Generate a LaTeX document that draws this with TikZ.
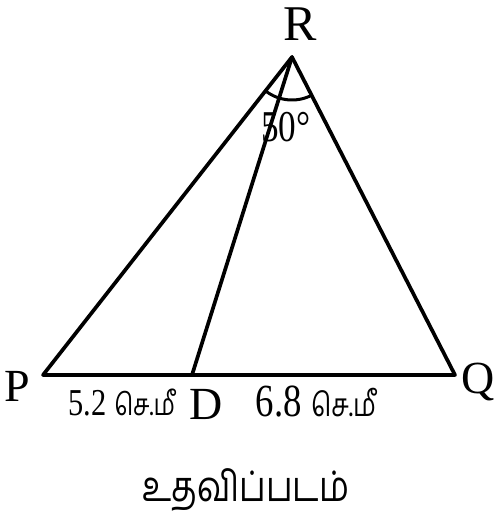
\documentclass[tikz,border=0pt]{standalone}
\usepackage{fontspec}
\setmainfont{Liberation Serif}
\newfontfamily\tamilfont[Script=Tamil]{Hind Madurai}
\usetikzlibrary{positioning,calc,angles}

\newcommand{\narrow}[1]{\scalebox{0.8}[1]{#1}}

\begin{document}
\begin{tikzpicture}[
    x=1pt, y=-1pt,
    every node/.style={inner sep=0pt},
    vertex/.style={font=\fontsize{46}{50}\selectfont},
    measure/.style={font=\fontsize{38}{42}\selectfont},
    caption/.style={font=\fontsize{42}{46}\selectfont\tamilfont},
    side/.style={line width=3.7pt, line cap=round, line join=round}
]
\useasboundingbox (0,0) rectangle (495,528);

% Triangle vertices
\coordinate (R) at (292,57);
\coordinate (P) at (43,375);
\coordinate (Q) at (455,375);
\coordinate (D) at (192,375);

% Sides and the segment RD
\draw[side] (P) -- (R) -- (Q) -- cycle;
\draw[side] (R) -- (D);

% Angle at R
\pic[draw, line width=3pt, angle radius=43pt] {angle=P--R--Q};
\node[vertex, font=\fontsize{44}{48}\selectfont] (ang) at (286,127) {\narrow{50°}};

% Vertex labels
\node[vertex, font=\fontsize{50}{54}\selectfont] (labR) at (300,24) {R};
\node[vertex] (labP) at (17,386) {P};
\node[vertex] (labQ) at (478,382) {Q};
\node[vertex] (labD) at (206,404) {D};

% Lengths
\node[measure] (pd) at (122,402) {\narrow{5.2 {\tamilfont\fontsize{30}{34}\selectfont செ.மீ}}};
\node[measure, font=\fontsize{46}{50}\selectfont] (dq) at (316,402) {\narrow{6.8 {\tamilfont\fontsize{32}{36}\selectfont செ.மீ}}};

% Caption
\node[caption] (cap) at (246,490) {\narrow{உதவிப்படம்}};

\end{tikzpicture}
\end{document}
